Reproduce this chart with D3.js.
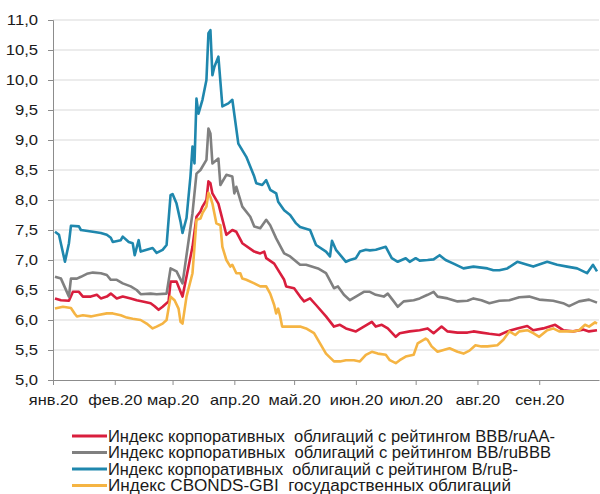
<!DOCTYPE html>
<html>
<head>
<meta charset="utf-8">
<script src="https://cdn.jsdelivr.net/npm/d3@7"></script>
<style>
  html, body { margin: 0; padding: 0; background: #fff; }
  svg { display: block; font-family: "Liberation Sans", Arial, sans-serif; }
</style>
</head>
<body>
<svg id="chart" width="600" height="494"></svg>
<script>
// Month tick labels
const monthLabels = ["янв.20", "фев.20", "мар.20", "апр.20", "май.20", "июн.20", "июл.20", "авг.20", "сен.20"];
const monthStarts = ["2020-01-01", "2020-02-01", "2020-03-01", "2020-04-01", "2020-05-01",
                     "2020-06-01", "2020-07-01", "2020-08-01", "2020-09-01"];
const yTicks = [5.0, 5.5, 6.0, 6.5, 7.0, 7.5, 8.0, 8.5, 9.0, 9.5, 10.0, 10.5, 11.0];

const seriesNames = [
  "Индекс корпоративных  облигаций с рейтингом BBB/ruAA-",
  "Индекс корпоративных  облигаций с рейтингом BB/ruBBB",
  "Индекс корпоративных  облигаций с рейтингом B/ruB-",
  "Индекс CBONDS-GBI  государственных облигаций"
];
const seriesColors = ["#d91e3d", "#808080", "#1f87ad", "#f5b443"];

// Yields, %
const bbbSeries = [
  ["2020-01-02",6.36],["2020-01-05",6.33],["2020-01-09",6.32],["2020-01-11",6.47],["2020-01-14",6.47],
  ["2020-01-16",6.39],["2020-01-20",6.39],["2020-01-23",6.42],["2020-01-25",6.36],["2020-01-28",6.39],
  ["2020-01-30",6.44],["2020-02-02",6.36],["2020-02-05",6.39],["2020-02-09",6.36],["2020-02-12",6.33],
  ["2020-02-15",6.31],["2020-02-19",6.28],["2020-02-21",6.23],["2020-02-23",6.17],["2020-02-25",6.22],
  ["2020-02-28",6.31],["2020-02-29",6.64],["2020-03-03",6.64],["2020-03-05",6.47],["2020-03-06",6.39],
  ["2020-03-11",7.22],["2020-03-13",7.72],["2020-03-15",7.81],["2020-03-16",7.89],["2020-03-18",8.00],
  ["2020-03-19",8.31],["2020-03-20",8.28],["2020-03-21",8.11],["2020-03-24",7.94],["2020-03-25",7.81],
  ["2020-03-28",7.42],["2020-03-31",7.50],["2020-04-02",7.47],["2020-04-05",7.28],["2020-04-11",7.14],
  ["2020-04-14",7.11],["2020-04-16",7.14],["2020-04-17",7.03],["2020-04-21",6.94],["2020-04-23",6.83],
  ["2020-04-26",6.67],["2020-04-27",6.56],["2020-05-01",6.53],["2020-05-04",6.39],["2020-05-06",6.31],
  ["2020-05-09",6.36],["2020-05-12",6.25],["2020-05-17",6.06],["2020-05-21",5.89],["2020-05-24",5.92],
  ["2020-05-27",5.86],["2020-06-01",5.81],["2020-06-05",5.89],["2020-06-09",5.97],["2020-06-11",5.89],
  ["2020-06-14",5.92],["2020-06-17",5.86],["2020-06-21",5.72],["2020-06-23",5.78],["2020-06-28",5.81],
  ["2020-07-03",5.83],["2020-07-07",5.86],["2020-07-10",5.78],["2020-07-14",5.89],["2020-07-17",5.81],
  ["2020-07-22",5.79],["2020-07-27",5.79],["2020-07-30",5.81],["2020-08-03",5.79],["2020-08-07",5.77],
  ["2020-08-12",5.75],["2020-08-16",5.81],["2020-08-21",5.86],["2020-08-26",5.90],["2020-08-29",5.83],
  ["2020-09-03",5.86],["2020-09-09",5.92],["2020-09-13",5.83],["2020-09-18",5.81],["2020-09-23",5.84],
  ["2020-09-26",5.81],["2020-09-30",5.83]
];

const bbSeries = [
  ["2020-01-02",6.72],["2020-01-05",6.69],["2020-01-09",6.39],["2020-01-10",6.69],["2020-01-13",6.69],
  ["2020-01-15",6.72],["2020-01-18",6.77],["2020-01-21",6.79],["2020-01-25",6.78],["2020-01-28",6.75],
  ["2020-01-30",6.67],["2020-02-02",6.67],["2020-02-05",6.61],["2020-02-09",6.56],["2020-02-12",6.50],
  ["2020-02-14",6.43],["2020-02-19",6.44],["2020-02-22",6.43],["2020-02-27",6.44],["2020-02-29",6.86],
  ["2020-03-03",6.81],["2020-03-06",6.61],["2020-03-11",7.78],["2020-03-13",8.44],["2020-03-15",8.50],
  ["2020-03-18",8.67],["2020-03-19",9.19],["2020-03-20",9.11],["2020-03-21",8.61],["2020-03-24",8.69],
  ["2020-03-25",8.25],["2020-03-28",8.42],["2020-03-31",8.39],["2020-04-01",8.11],["2020-04-02",8.22],
  ["2020-04-05",7.89],["2020-04-09",7.72],["2020-04-11",7.56],["2020-04-14",7.53],["2020-04-17",7.67],
  ["2020-04-19",7.58],["2020-04-22",7.36],["2020-04-26",7.11],["2020-04-29",7.06],["2020-05-04",6.92],
  ["2020-05-07",6.92],["2020-05-13",6.86],["2020-05-17",6.78],["2020-05-21",6.53],["2020-05-23",6.56],
  ["2020-05-26",6.42],["2020-05-29",6.33],["2020-06-01",6.39],["2020-06-05",6.47],["2020-06-08",6.47],
  ["2020-06-11",6.42],["2020-06-15",6.39],["2020-06-17",6.44],["2020-06-20",6.31],["2020-06-22",6.22],
  ["2020-06-25",6.31],["2020-06-30",6.33],["2020-07-03",6.36],["2020-07-07",6.42],["2020-07-10",6.47],
  ["2020-07-12",6.39],["2020-07-17",6.36],["2020-07-22",6.31],["2020-07-27",6.32],["2020-07-30",6.36],
  ["2020-08-03",6.33],["2020-08-07",6.28],["2020-08-12",6.32],["2020-08-17",6.33],["2020-08-22",6.38],
  ["2020-08-27",6.39],["2020-09-01",6.34],["2020-09-08",6.32],["2020-09-13",6.28],["2020-09-16",6.23],
  ["2020-09-21",6.31],["2020-09-26",6.34],["2020-09-30",6.29]
];

const bSeries = [
  ["2020-01-02",7.47],["2020-01-04",7.42],["2020-01-07",6.97],["2020-01-09",7.28],["2020-01-10",7.57],
  ["2020-01-14",7.56],["2020-01-15",7.50],["2020-01-21",7.47],["2020-01-25",7.45],["2020-01-28",7.42],
  ["2020-01-30",7.37],["2020-01-31",7.30],["2020-02-04",7.33],["2020-02-05",7.39],["2020-02-08",7.30],
  ["2020-02-10",7.28],["2020-02-11",7.08],["2020-02-13",7.33],["2020-02-14",7.14],["2020-02-17",7.17],
  ["2020-02-20",7.20],["2020-02-22",7.12],["2020-02-25",7.17],["2020-02-27",7.25],["2020-02-29",8.08],
  ["2020-03-01",8.10],["2020-03-03",7.94],["2020-03-05",7.64],["2020-03-06",7.45],["2020-03-08",7.70],
  ["2020-03-10",8.40],["2020-03-11",8.89],["2020-03-12",8.61],["2020-03-13",9.69],["2020-03-14",9.44],
  ["2020-03-16",9.67],["2020-03-18",10.00],["2020-03-19",10.78],["2020-03-20",10.83],["2020-03-21",10.08],
  ["2020-03-22",10.22],["2020-03-24",10.39],["2020-03-26",9.56],["2020-03-29",9.61],["2020-03-31",9.67],
  ["2020-04-03",8.94],["2020-04-07",8.72],["2020-04-11",8.39],["2020-04-12",8.28],["2020-04-15",8.25],
  ["2020-04-17",8.33],["2020-04-19",8.17],["2020-04-22",8.11],["2020-04-23",7.97],["2020-04-26",7.83],
  ["2020-04-29",7.75],["2020-05-02",7.61],["2020-05-04",7.55],["2020-05-09",7.50],["2020-05-12",7.25],
  ["2020-05-17",7.14],["2020-05-19",7.06],["2020-05-20",7.32],["2020-05-22",7.17],["2020-05-27",6.97],
  ["2020-05-29",7.00],["2020-06-01",7.03],["2020-06-03",7.14],["2020-06-06",7.17],["2020-06-08",7.16],
  ["2020-06-11",7.17],["2020-06-16",7.22],["2020-06-19",7.03],["2020-06-22",6.97],["2020-06-26",7.03],
  ["2020-06-28",6.97],["2020-07-01",7.03],["2020-07-03",6.99],["2020-07-07",7.00],["2020-07-10",7.01],
  ["2020-07-13",7.08],["2020-07-16",7.00],["2020-07-20",6.94],["2020-07-25",6.86],["2020-07-30",6.89],
  ["2020-08-06",6.86],["2020-08-09",6.83],["2020-08-12",6.83],["2020-08-16",6.86],["2020-08-21",6.97],
  ["2020-08-26",6.92],["2020-08-29",6.89],["2020-09-05",6.97],["2020-09-10",6.92],["2020-09-15",6.89],
  ["2020-09-20",6.86],["2020-09-25",6.78],["2020-09-28",6.92],["2020-09-30",6.81]
];

const gbiSeries = [
  ["2020-01-02",6.19],["2020-01-06",6.22],["2020-01-10",6.20],["2020-01-12",6.10],["2020-01-13",6.06],
  ["2020-01-16",6.08],["2020-01-20",6.06],["2020-01-23",6.08],["2020-01-28",6.11],["2020-01-31",6.11],
  ["2020-02-04",6.08],["2020-02-07",6.04],["2020-02-10",6.02],["2020-02-14",6.00],["2020-02-17",5.94],
  ["2020-02-20",5.86],["2020-02-22",5.89],["2020-02-25",5.94],["2020-02-27",6.00],["2020-02-29",6.39],
  ["2020-03-02",6.33],["2020-03-04",6.19],["2020-03-05",5.97],["2020-03-06",5.94],["2020-03-08",6.39],
  ["2020-03-11",6.78],["2020-03-12",7.22],["2020-03-13",7.67],["2020-03-15",7.69],["2020-03-16",7.78],
  ["2020-03-18",7.89],["2020-03-19",8.12],["2020-03-20",8.05],["2020-03-21",7.94],["2020-03-23",7.61],
  ["2020-03-25",7.58],["2020-03-26",7.22],["2020-03-28",7.00],["2020-03-30",6.89],["2020-03-31",6.92],
  ["2020-04-02",6.78],["2020-04-04",6.78],["2020-04-05",6.69],["2020-04-07",6.67],["2020-04-11",6.61],
  ["2020-04-14",6.56],["2020-04-17",6.56],["2020-04-19",6.44],["2020-04-21",6.25],["2020-04-22",6.11],
  ["2020-04-23",6.19],["2020-04-24",6.06],["2020-04-25",5.89],["2020-05-01",5.89],["2020-05-04",5.89],
  ["2020-05-07",5.86],["2020-05-11",5.78],["2020-05-14",5.61],["2020-05-17",5.44],["2020-05-21",5.31],
  ["2020-05-24",5.31],["2020-05-27",5.33],["2020-05-31",5.33],["2020-06-03",5.31],["2020-06-06",5.42],
  ["2020-06-09",5.47],["2020-06-12",5.44],["2020-06-16",5.42],["2020-06-18",5.33],["2020-06-21",5.28],
  ["2020-06-23",5.33],["2020-06-26",5.39],["2020-06-30",5.42],["2020-07-02",5.61],["2020-07-06",5.69],
  ["2020-07-07",5.67],["2020-07-09",5.56],["2020-07-12",5.47],["2020-07-15",5.50],["2020-07-18",5.53],
  ["2020-07-22",5.47],["2020-07-25",5.44],["2020-07-28",5.49],["2020-07-31",5.58],["2020-08-03",5.56],
  ["2020-08-06",5.56],["2020-08-11",5.58],["2020-08-14",5.67],["2020-08-17",5.81],["2020-08-20",5.75],
  ["2020-08-22",5.81],["2020-08-26",5.83],["2020-08-29",5.78],["2020-09-01",5.72],["2020-09-05",5.83],
  ["2020-09-08",5.86],["2020-09-11",5.81],["2020-09-15",5.81],["2020-09-18",5.81],["2020-09-21",5.83],
  ["2020-09-24",5.92],["2020-09-26",5.89],["2020-09-29",5.96],["2020-09-30",5.94]
];

const allSeries = [bbbSeries, bbSeries, bSeries, gbiSeries];

const parse = d3.utcParse("%Y-%m-%d");
const svg = d3.select("#chart");

const plot = { left: 53, right: 599, top: 20, bottom: 380 };

const x = d3.scaleUtc()
  .domain([parse("2020-01-01"), parse("2020-10-01")])
  .range([plot.left, plot.right]);
const y = d3.scaleLinear().domain([5, 11]).range([plot.bottom, plot.top]);

// horizontal gridlines
svg.append("g")
  .selectAll("line")
  .data(yTicks.slice(1))
  .join("line")
  .attr("x1", plot.left).attr("x2", plot.right)
  .attr("y1", d => y(d)).attr("y2", d => y(d))
  .attr("stroke", "#d9d9d9").attr("stroke-width", 1.2);

const fmt = d => d3.format(".1f")(d).replace(".", ",");

// y axis
const yAxis = svg.append("g")
  .attr("transform", `translate(${plot.left},0)`)
  .call(d3.axisLeft(y).tickValues(yTicks).tickFormat(fmt).tickSize(5).tickPadding(8));
yAxis.select(".domain").attr("stroke", "#8c8c8c");
yAxis.selectAll(".tick line").attr("stroke", "#8c8c8c");
yAxis.selectAll("text")
  .attr("fill", "#1a1a1a")
  .style("font-size", "14.5px")
  .attr("transform", "scale(1.15,1)");

// x axis
const xAxis = svg.append("g")
  .attr("transform", `translate(0,${plot.bottom})`)
  .call(d3.axisBottom(x)
    .tickValues(monthStarts.map(parse))
    .tickFormat((d, i) => monthLabels[i])
    .tickSize(5).tickPadding(10)
    .tickSizeOuter(0));
xAxis.select(".domain").attr("stroke", "#8c8c8c");
xAxis.selectAll(".tick line").attr("stroke", "#8c8c8c");
xAxis.selectAll("text")
  .attr("fill", "#1a1a1a")
  .style("font-size", "14px")
  .attr("transform", "scale(1.17,1)");

// series lines
const line = d3.line()
  .x(d => x(parse(d[0])))
  .y(d => y(d[1]));

svg.append("g")
  .selectAll("path")
  .data(allSeries)
  .join("path")
  .attr("d", line)
  .attr("fill", "none")
  .attr("stroke", (d, i) => seriesColors[i])
  .attr("stroke-width", 2.6)
  .attr("stroke-linejoin", "round");

// legend
const legendWidths = [447, 443, 410, 403];
const legend = svg.append("g");
seriesNames.forEach((name, i) => {
  const yy = 436 + i * 16.5;
  legend.append("line")
    .attr("x1", 72).attr("x2", 107)
    .attr("y1", yy).attr("y2", yy)
    .attr("stroke", seriesColors[i]).attr("stroke-width", 3);
  legend.append("text")
    .attr("x", 108).attr("y", yy + 5.8)
    .attr("fill", "#1a1a1a")
    .style("font-size", "16px")
    .attr("textLength", legendWidths[i])
    .attr("lengthAdjust", "spacingAndGlyphs")
    .style("white-space", "pre")
    .text(name);
});
</script>
</body>
</html>
